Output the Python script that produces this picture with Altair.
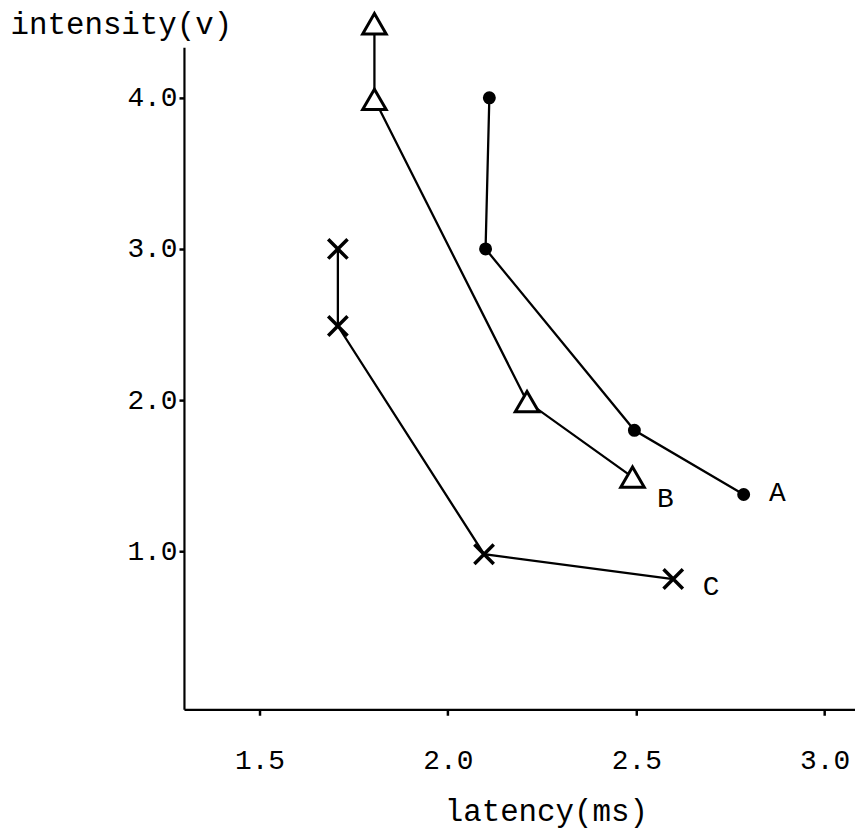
import altair as alt
import pandas as pd

# ---- data ----
series_names = ["A", "B", "C"]
a_latency = [2.11, 2.10, 2.495, 2.785]
a_intensity = [4.0, 3.0, 1.80, 1.375]
b_latency = [1.805, 1.805, 2.21, 2.49]
b_intensity = [4.49, 3.99, 1.99, 1.49]
c_latency = [1.708, 1.708, 2.096, 2.598]
c_intensity = [3.0, 2.49, 0.98, 0.816]
x_ticks = [1.5, 2.0, 2.5, 3.0]
y_ticks = [1.0, 2.0, 3.0, 4.0]
x_domain = [1.2995, 3.0805]
y_domain = [-0.046, 4.335]

rows = []
for name, xs, ys in zip(series_names, [a_latency, b_latency, c_latency],
                        [a_intensity, b_intensity, c_intensity]):
    for i, (xv, yv) in enumerate(zip(xs, ys)):
        rows.append({"series": name, "idx": i, "latency": xv, "intensity": yv,
                     "last": i == len(xs) - 1})
df = pd.DataFrame(rows)

FONT = "Liberation Mono"

x_enc = alt.X("latency:Q",
              scale=alt.Scale(domain=x_domain, nice=False, zero=False),
              axis=alt.Axis(values=x_ticks, format=".1f", title="latency(ms)",
                            grid=False, domainColor="black", domainWidth=2.2,
                            tickColor="black", tickWidth=2.5, tickSize=6,
                            labelFont=FONT, labelFontSize=28, labelColor="black",
                            labelPadding=32, labelFlush=False,
                            titleFont=FONT, titleFontSize=31, titleFontWeight="normal",
                            titleColor="black", titleX=364, titleY=112,
                            titleAlign="center", titleBaseline="alphabetic"))
y_enc = alt.Y("intensity:Q",
              scale=alt.Scale(domain=y_domain, nice=False, zero=False),
              axis=alt.Axis(values=y_ticks, format=".1f", title="intensity(v)",
                            grid=False, domainColor="black", domainWidth=2.2,
                            tickColor="black", tickWidth=2.5, tickSize=5,
                            labelFont=FONT, labelFontSize=28, labelColor="black",
                            labelPadding=2, labelFlush=False,
                            titleFont=FONT, titleFontSize=31, titleFontWeight="normal",
                            titleColor="black", titleAngle=0, titleX=-175, titleY=-14,
                            titleAlign="left", titleBaseline="alphabetic"))

base = alt.Chart(df)

lines = base.mark_line(color="black", strokeWidth=2.3).encode(
    x=x_enc, y=y_enc, detail="series:N", order=alt.Order("idx:Q"))

pts_a = base.transform_filter(alt.datum.series == "A").mark_point(
    shape="circle", filled=True, color="black", size=170, opacity=1).encode(
    x="latency:Q", y="intensity:Q")

pts_b = base.transform_filter(alt.datum.series == "B").mark_point(
    shape="triangle-up", filled=True, fill="white", stroke="black",
    strokeWidth=3, size=560, opacity=1, fillOpacity=1).encode(
    x="latency:Q", y="intensity:Q")

pts_c = base.transform_filter(alt.datum.series == "C").mark_point(
    shape="M-1,-1L1,1M1,-1L-1,1", filled=False, stroke="black",
    strokeWidth=3.5, size=380, opacity=1).encode(
    x="latency:Q", y="intensity:Q")

last = base.transform_filter(alt.datum.last)

lab_a = last.transform_filter(alt.datum.series == "A").mark_text(
    font=FONT, fontSize=28, color="black", dx=34, dy=-1, baseline="middle").encode(
    x="latency:Q", y="intensity:Q", text="series:N")
lab_b = last.transform_filter(alt.datum.series == "B").mark_text(
    font=FONT, fontSize=28, color="black", dx=33, dy=22, baseline="middle").encode(
    x="latency:Q", y="intensity:Q", text="series:N")
lab_c = last.transform_filter(alt.datum.series == "C").mark_text(
    font=FONT, fontSize=28, color="black", dx=38, dy=8, baseline="middle").encode(
    x="latency:Q", y="intensity:Q", text="series:N")

chart = alt.layer(lines, pts_a, pts_b, pts_c, lab_a, lab_b, lab_c).properties(
    width=675, height=666, autosize="none",
    padding={"left": 177, "top": 37, "right": 0, "bottom": 120},
    background="white",
).configure_view(stroke=None)

chart.save("out.html", embed_options={"renderer": "svg", "actions": False})
